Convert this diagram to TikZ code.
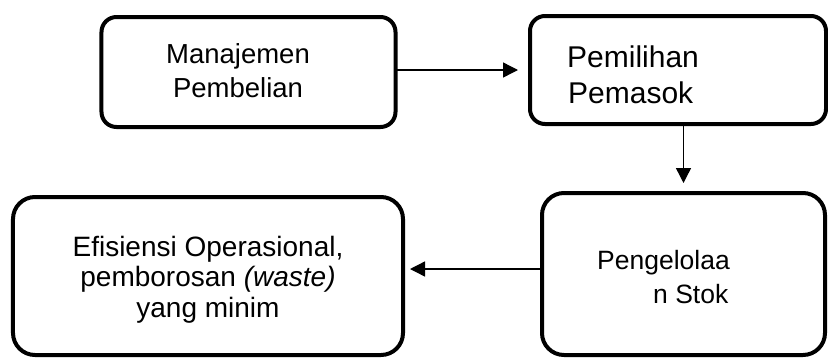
\documentclass[tikz,border=0pt]{standalone}
\usepackage{fontspec}
\setmainfont{Liberation Sans}
\usetikzlibrary{arrows.meta}
\begin{document}
\begin{tikzpicture}[x=1bp,y=-1bp,
  box/.style={draw=black, line width=4bp, rounded corners=#1, outer sep=0pt, inner sep=0pt, fill=white},
  box/.default=15bp,
  arr/.style={draw=black, line width=1.4bp, -{Triangle[length=15bp,width=15bp]}},
  txt/.style={inner sep=0pt, anchor=base}
]
\useasboundingbox (0,0) rectangle (828,358);
\fill[white] (0,0) rectangle (828,358);
% boxes
\node[box, minimum width=294bp, minimum height=110bp] (b1) at (248.5,72) {};
\node[box, minimum width=296bp, minimum height=108bp] (b2) at (678,70) {};
\node[box=22bp, minimum width=283bp, minimum height=162bp] (b3) at (683.5,274) {};
\node[box=22bp, minimum width=390bp, minimum height=158bp] (b4) at (208,276) {};
% texts
\node[txt] (t1a) at (238,63) {\fontsize{27.5bp}{34bp}\selectfont Manajemen};
\node[txt] (t1b) at (238,97) {\fontsize{27.5bp}{34bp}\selectfont Pembelian};
\node[txt, anchor=base west] (t2a) at (567,67) {\fontsize{30bp}{36bp}\selectfont Pemilihan};
\node[txt, anchor=base west] (t2b) at (568,103) {\fontsize{30bp}{36bp}\selectfont Pemasok};
\node[txt, anchor=base west] (t3a) at (597,269) {\fontsize{26.5bp}{34bp}\selectfont Pengelolaa};
\node[txt, anchor=base west] (t3b) at (653,303) {\fontsize{26.5bp}{34bp}\selectfont n Stok};
\node[txt] (t4a) at (208,256) {\fontsize{28bp}{31bp}\selectfont Efisiensi Operasional,};
\node[txt] (t4b) at (208,286) {\fontsize{28bp}{31bp}\selectfont pemborosan \textit{(waste)}};
\node[txt] (t4c) at (208,317) {\fontsize{28bp}{31bp}\selectfont yang minim};
% connectors
\draw[arr, shorten >=12bp] (b1.east |- b2.west) -- (b2.west);
\draw[arr, shorten >=10bp] (b3.north |- b2.south) -- (b3.north);
\draw[arr, shorten >=7bp] ([yshift=5bp]b3.west) -- ([yshift=5bp]b3.west -| b4.east);
\end{tikzpicture}
\end{document}
